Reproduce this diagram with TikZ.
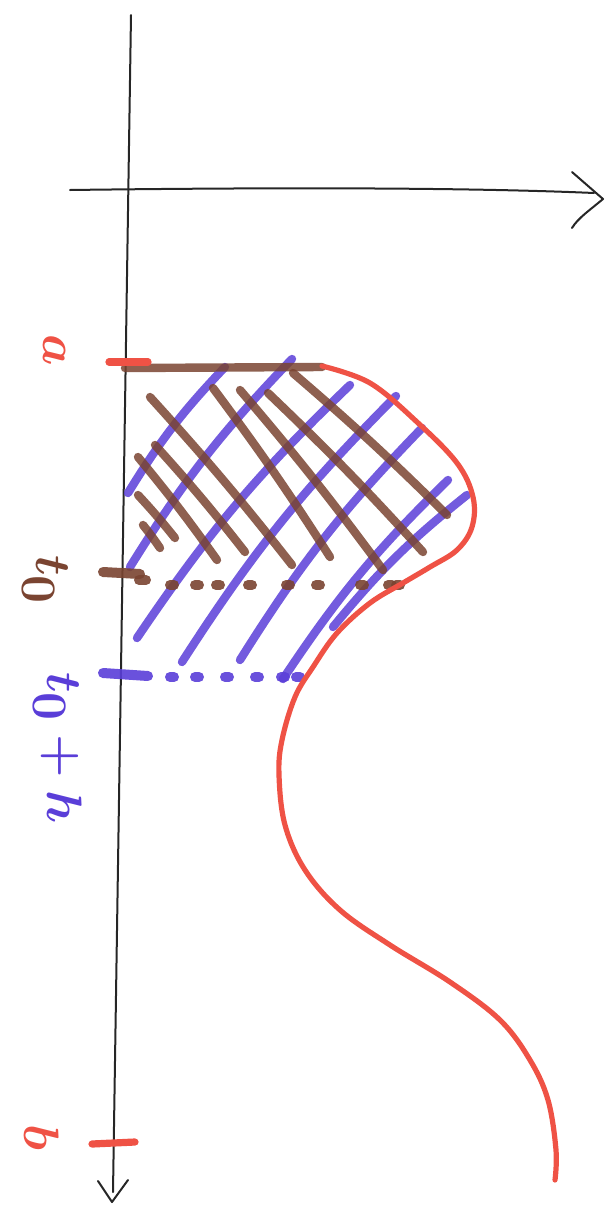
\documentclass[tikz,border=0pt]{standalone}
\definecolor{penred}{HTML}{EF5245}
\definecolor{penbrown}{HTML}{7A4431}
\definecolor{penblue}{HTML}{5A3ED8}
\begin{document}
\begin{tikzpicture}[x=0.5pt,y=-0.5pt,
  axis/.style={line width=1pt, draw=black!85, line cap=round, line join=round},
  redpen/.style={line width=2.6pt, draw=penred, line cap=round},
  brownpen/.style={line width=4.2pt, draw=penbrown, line cap=round, opacity=.85},
  bluepen/.style={line width=4.2pt, draw=penblue, line cap=round, opacity=.85},
  dotpen/.style={line width=5pt, line cap=round, opacity=.9},
  lbl/.style={font=\fontsize{36}{36}\selectfont\boldmath, rotate=-90, inner sep=0pt}]
\useasboundingbox (0,0) rectangle (610,1205);

% axes
\coordinate (vtop) at (131,15);
\coordinate (vbot) at (113,1192);
\coordinate (vtip) at (112,1202);
\coordinate (vl) at (98,1181);
\coordinate (vr) at (128,1180);
\draw[axis] (vtop) -- (vbot);
\draw[axis] (vl) -- (vtip) -- (vr);
\coordinate (hl) at (70,190);
\coordinate (hr) at (594,193);
\coordinate (htip) at (603,199);
\coordinate (hu) at (572,172);
\coordinate (hd) at (572,228);
\draw[axis] (hl) .. controls (300,187) and (480,188) .. (hr);
\draw[axis] (hu) -- (htip) .. controls (590,210) and (578,218) .. (hd);

% blue hatching
\foreach \x/\y/\u/\v in {128/493/225/367, 130/567/292/359, 137/638/350/385,
  182/662/396/396, 240/660/422/428, 283/679/448/480, 333/627/467/495}
  \draw[bluepen] (\x,\y) to[bend left=6] (\u,\v);

% brown hatching
\draw[brownpen] (125,368) -- (322,367);
\foreach \x/\y/\u/\v in {143/525/160/548, 138/495/175/538, 138/457/217/560,
  155/445/245/552, 150/397/292/565, 213/388/330/557, 240/390/383/570,
  268/393/423/552, 293/373/447/515}
  \draw[brownpen] (\x,\y) to[bend left=2] (\u,\v);

% dotted levels
\draw[dotpen, draw=penbrown] (103,572) -- (140,574);
\draw[dotpen, draw=penbrown] (139,580) -- (146,580);
\foreach \x in {172,197,218,250,288,318,362,390,398}
  \draw[dotpen, draw=penbrown] (\x-2,585) -- (\x+2,585);
\draw[dotpen, draw=penblue] (103,673) -- (148,676);
\foreach \x in {172,197,227,257,283,298}
  \draw[dotpen, draw=penblue] (\x-2,677) -- (\x+2,677);

% red curve and ticks
\draw[redpen] plot[smooth, tension=0.6] coordinates {
  (322,366) (370,383) (417,422) (457,463) (473,497) (472,527) (457,550)
  (430,567) (403,583) (370,603) (337,633) (313,667) (295,697) (282,740)
  (279,775) (285,825) (305,870) (340,910) (390,945) (450,982) (500,1020)
  (530,1060) (548,1100) (556,1150) (555,1180)};
\draw[redpen, line width=3.6pt] (109,362) -- (148,362);
\draw[redpen, line width=3.6pt] (92,1144) -- (135,1142);

% labels
\node[lbl, text=penred] (la) at (55,350) {$a$};
\node[lbl, text=penbrown] (lt) at (45,580) {$t_0$};
\node[lbl, text=penblue] (lth) at (58,748) {$t_0+h$};
\node[lbl, text=penred] (lb) at (42,1137) {$b$};
\end{tikzpicture}
\end{document}
